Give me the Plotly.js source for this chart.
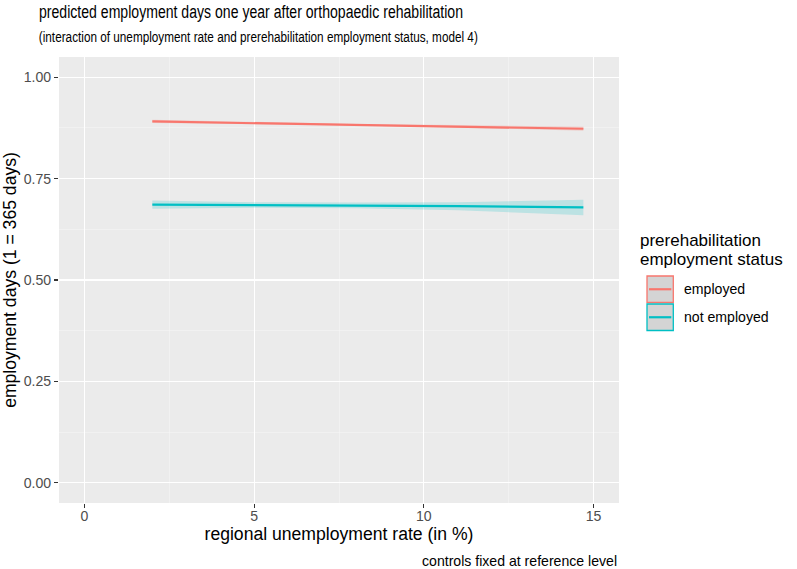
<!DOCTYPE html>
<html>
<head>
<meta charset="utf-8">
<script src="https://cdn.plot.ly/plotly-3.0.1.min.js"></script>
<style>html,body{margin:0;padding:0;background:#fff;}#chart{width:797px;height:569px;}</style>
</head>
<body>
<div id="chart"></div>
<script>
// Data
const unempRate = [2.0, 5.0, 8.0, 11.0, 14.7];
const employedFit = [0.891, 0.887, 0.883, 0.879, 0.873];
const employedLow = [0.887, 0.884, 0.881, 0.876, 0.868];
const employedHigh = [0.895, 0.890, 0.885, 0.882, 0.878];
const notEmployedFit = [0.686, 0.685, 0.684, 0.682, 0.679];
const notEmployedLow = [0.676, 0.678, 0.677, 0.672, 0.660];
const notEmployedHigh = [0.696, 0.692, 0.691, 0.692, 0.698];
const seriesNames = ["employed", "not employed"];
const seriesColors = ["#F8766D", "#00BFC4"];
const ribbonColors = ["rgba(248,118,109,0.25)", "rgba(0,191,196,0.2)"];
const xTicks = [0, 5, 10, 15];
const yTicks = [0, 0.25, 0.5, 0.75, 1.0];
const yTickText = ["0.00", "0.25", "0.50", "0.75", "1.00"];
const titleText = "predicted employment days one year after orthopaedic rehabilitation";
const subtitleText = "(interaction of unemployment rate and prerehabilitation employment status, model 4)";
const legendTitleLines = ["prerehabilitation", "employment status"];

const font = "Liberation Sans, Arial, Helvetica, sans-serif";
const fits = [employedFit, notEmployedFit];
const lows = [employedLow, notEmployedLow];
const highs = [employedHigh, notEmployedHigh];

const traces = [];
for (let i = 0; i < 2; i++) {
  traces.push({x: unempRate, y: lows[i], mode: "lines", line: {width: 0, color: "rgba(0,0,0,0)"}, showlegend: false, hoverinfo: "skip"});
  traces.push({x: unempRate, y: highs[i], mode: "lines", fill: "tonexty", fillcolor: ribbonColors[i], line: {width: 0, color: "rgba(0,0,0,0)"}, showlegend: false, hoverinfo: "skip"});
}
for (let i = 0; i < 2; i++) {
  traces.push({x: unempRate, y: fits[i], mode: "lines", name: seriesNames[i], line: {color: seriesColors[i], width: 2.2}, showlegend: false});
}

// Legend drawn with shapes/annotations (ggplot style keys)
const px = v => (v - 59) / 560;
const py = v => 1 - (v - 57) / 446;
const shapes = [];
const annotations = [];
const keyTop = [276, 304];
for (let i = 0; i < 2; i++) {
  const y0 = keyTop[i], y1 = keyTop[i] + 26.5;
  shapes.push({type: "rect", xref: "paper", yref: "paper",
    x0: px(647), x1: px(673.3), y0: py(y1), y1: py(y0),
    fillcolor: "#D4D4D4", line: {color: seriesColors[i], width: 1.3}});
  shapes.push({type: "line", xref: "paper", yref: "paper",
    x0: px(649), x1: px(671.3), y0: py((y0 + y1) / 2), y1: py((y0 + y1) / 2),
    line: {color: seriesColors[i], width: 2.2}});
  annotations.push({xref: "paper", yref: "paper", x: px(682), y: py((y0 + y1) / 2),
    xanchor: "left", yanchor: "middle", showarrow: false, text: seriesNames[i],
    font: {family: font, size: 14.1, color: "#000"}});
}
const legendTitleY = [240.5, 259.5];
for (let k = 0; k < 2; k++) {
  annotations.push({xref: "paper", yref: "paper", x: px(638), y: py(legendTitleY[k]),
    xanchor: "left", yanchor: "middle", showarrow: false, align: "left",
    text: legendTitleLines[k], font: {family: font, size: 17, color: "#000"}});
}
// subtitle
annotations.push({xref: "paper", yref: "paper", x: px(258.5), y: py(37.5),
  xanchor: "center", yanchor: "middle", showarrow: false,
  text: subtitleText, font: {family: font, size: 14.7, color: "#000"}});
// caption
annotations.push({xref: "paper", yref: "paper", x: 1, y: py(561),
  xanchor: "right", yanchor: "middle", showarrow: false,
  text: "controls fixed at reference level",
  font: {family: font, size: 14.1, color: "#000"}});

const layout = {
  width: 797, height: 569,
  margin: {l: 59, r: 178, t: 57, b: 66},
  paper_bgcolor: "#FFFFFF", plot_bgcolor: "#EBEBEB",
  showlegend: false,
  title: {text: titleText,
    x: 39 / 797, xanchor: "left", xref: "container", y: 1 - 12 / 569, yanchor: "middle", yref: "container",
    font: {family: font, size: 17.6, color: "#000"}},
  xaxis: {range: [-0.75, 15.75], tickvals: xTicks, ticktext: xTicks.map(String),
    showgrid: true, gridcolor: "#FFFFFF", gridwidth: 1.1, zeroline: false,
    ticks: "outside", ticklen: 4, tickwidth: 1.1, tickcolor: "#333333",
    ticklabelstandoff: -4,
    tickfont: {family: font, size: 14.1, color: "#4D4D4D"},
    minor: {dtick: 2.5, tick0: 0, showgrid: true, gridcolor: "#F6F6F6", gridwidth: 0.55, ticks: ""},
    title: {text: "regional unemployment rate (in %)", font: {family: font, size: 17.6, color: "#000"}, standoff: 4},
    showline: false, fixedrange: true},
  yaxis: {range: [-0.05, 1.05], tickvals: yTicks, ticktext: yTickText,
    showgrid: true, gridcolor: "#FFFFFF", gridwidth: 1.1, zeroline: false,
    ticks: "outside", ticklen: 4, tickwidth: 1.1, tickcolor: "#333333",
    tickfont: {family: font, size: 14.1, color: "#4D4D4D"},
    minor: {dtick: 0.125, tick0: 0, showgrid: true, gridcolor: "#F6F6F6", gridwidth: 0.55, ticks: ""},
    title: {text: "employment days (1 = 365 days)", font: {family: font, size: 17.6, color: "#000"}, standoff: 2},
    showline: false, fixedrange: true},
  shapes: shapes,
  annotations: annotations
};

Plotly.newPlot("chart", traces, layout, {displayModeBar: false, staticPlot: true}).then(gd => {
  // The reference uses a condensed face for title and subtitle: compress glyphs to the measured widths
  const t = gd.querySelector(".gtitle");
  if (t) { t.setAttribute("textLength", "424"); t.setAttribute("lengthAdjust", "spacingAndGlyphs"); }
  gd.querySelectorAll("text.annotation-text").forEach(el => {
    if (el.textContent === subtitleText) {
      el.setAttribute("textLength", "439"); el.setAttribute("lengthAdjust", "spacingAndGlyphs");
    }
  });
});
</script>
</body>
</html>
